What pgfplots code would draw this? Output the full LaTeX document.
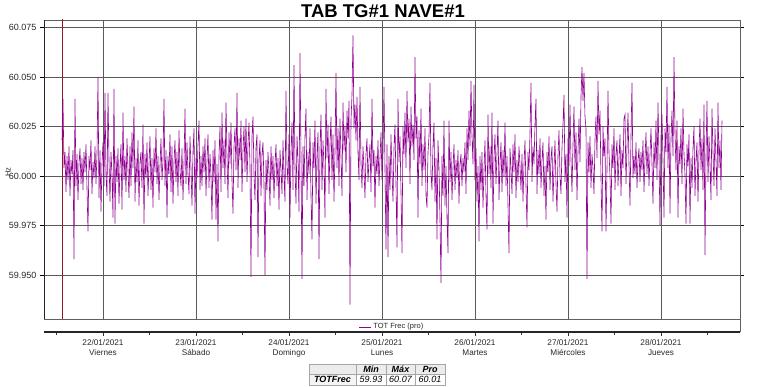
\documentclass[border=0pt]{standalone}
\usepackage{pgfplots}
\pgfplotsset{compat=1.18}
\usepackage{pgfplotstable}
\usepackage{fontspec}
\setmainfont{Liberation Sans}
\definecolor{freq}{RGB}{145,0,145}
\definecolor{cursor}{RGB}{150,20,40}
\definecolor{gridc}{RGB}{90,90,90}
\definecolor{txt}{RGB}{40,40,40}
\pgfplotstableread[row sep=\\]{
y\\
60.018\\60.039\\60.004\\60.012\\59.992\\60.010\\59.998\\60.015\\59.990\\60.008\\60.001\\60.013\\59.958\\60.039\\59.995\\60.011\\59.988\\60.006\\60.014\\59.996\\
60.009\\59.993\\60.012\\60.002\\60.016\\59.994\\59.972\\60.010\\60.003\\60.018\\59.991\\60.007\\59.999\\60.015\\59.996\\60.011\\60.050\\59.989\\60.013\\59.982\\
60.006\\60.017\\59.995\\60.042\\60.000\\59.990\\60.042\\60.008\\59.987\\60.012\\60.001\\59.979\\60.044\\59.976\\60.010\\59.997\\60.014\\59.986\\60.005\\60.016\\
59.983\\60.032\\59.998\\60.010\\59.992\\60.019\\60.003\\59.989\\60.015\\59.995\\60.022\\60.004\\60.035\\59.987\\60.009\\59.997\\60.018\\59.985\\60.007\\60.012\\
59.994\\60.026\\59.976\\60.011\\59.999\\60.017\\59.990\\60.006\\60.020\\59.993\\60.009\\59.984\\60.014\\60.002\\60.024\\59.996\\60.010\\59.988\\60.005\\60.019\\
59.998\\60.008\\60.039\\59.995\\60.013\\59.979\\60.010\\60.001\\60.021\\59.992\\60.015\\59.986\\60.007\\60.018\\59.997\\60.012\\59.990\\60.023\\60.003\\59.995\\
60.014\\59.988\\60.006\\60.034\\59.996\\60.017\\60.001\\59.991\\60.020\\60.004\\59.985\\60.012\\60.024\\59.981\\60.009\\59.999\\60.016\\60.028\\59.993\\60.010\\
59.995\\60.015\\60.002\\60.019\\59.990\\60.008\\60.021\\59.994\\60.011\\60.000\\59.978\\60.013\\59.997\\60.018\\59.978\\60.006\\59.967\\60.010\\60.025\\59.992\\
60.032\\60.004\\60.018\\59.996\\60.037\\60.010\\59.989\\60.022\\60.006\\60.027\\59.998\\59.981\\60.015\\60.024\\60.003\\60.042\\59.994\\60.019\\60.008\\60.028\\
59.992\\60.013\\60.025\\60.002\\60.029\\59.997\\60.016\\60.027\\60.005\\59.949\\60.020\\60.030\\60.001\\59.988\\60.014\\60.021\\59.959\\60.009\\60.018\\59.990\\
60.011\\60.017\\59.996\\59.950\\60.008\\59.993\\60.012\\60.002\\59.985\\60.015\\59.998\\60.010\\59.989\\60.006\\60.016\\59.995\\60.009\\59.983\\60.013\\60.003\\
59.991\\60.018\\60.000\\59.987\\60.043\\60.006\\59.996\\60.021\\59.979\\60.012\\60.027\\59.993\\60.056\\60.004\\59.986\\60.020\\60.008\\59.982\\60.062\\60.010\\
59.948\\60.015\\59.995\\60.020\\60.034\\59.988\\60.012\\60.001\\60.024\\59.990\\59.968\\60.017\\60.004\\60.028\\59.986\\60.010\\60.022\\59.958\\60.014\\60.031\\
59.993\\60.018\\60.005\\59.979\\60.044\\60.009\\60.026\\59.991\\60.016\\60.030\\59.998\\60.021\\59.987\\60.012\\60.052\\60.004\\60.024\\59.995\\60.029\\60.010\\
59.990\\60.037\\60.013\\60.025\\60.002\\60.033\\60.019\\60.038\\59.935\\60.028\\60.041\\60.071\\60.024\\60.036\\60.018\\60.040\\60.012\\59.998\\60.045\\60.006\\
59.994\\60.015\\60.003\\59.989\\60.011\\60.019\\59.997\\60.008\\60.016\\59.992\\60.039\\60.005\\60.013\\59.984\\60.010\\60.001\\60.018\\59.995\\60.009\\60.022\\
59.998\\60.012\\60.045\\60.004\\59.963\\60.016\\59.959\\60.010\\59.993\\60.021\\60.002\\59.987\\60.014\\60.026\\59.996\\59.964\\60.039\\60.007\\60.020\\59.992\\
59.961\\60.025\\60.011\\60.032\\60.004\\60.043\\60.017\\60.029\\59.996\\60.035\\60.015\\60.026\\60.008\\60.060\\60.019\\60.030\\59.979\\60.023\\60.006\\60.034\\
59.995\\60.016\\60.003\\60.024\\59.990\\59.984\\60.012\\60.020\\60.047\\60.001\\59.993\\60.015\\60.027\\59.987\\60.009\\59.968\\60.018\\60.004\\59.978\\59.946\\
60.010\\59.990\\60.028\\59.985\\60.005\\59.979\\59.961\\60.028\\59.997\\60.012\\59.988\\60.004\\60.016\\59.993\\60.008\\59.999\\60.013\\59.986\\60.006\\60.011\\
59.995\\60.009\\60.002\\60.017\\59.991\\60.024\\60.008\\60.033\\60.015\\60.048\\60.020\\60.006\\60.046\\59.998\\60.014\\59.987\\60.005\\59.967\\60.010\\59.993\\
60.012\\59.984\\60.003\\60.018\\59.990\\59.973\\60.031\\60.001\\60.015\\59.994\\60.032\\59.976\\60.009\\60.021\\59.996\\60.011\\60.028\\59.988\\60.006\\60.017\\
59.992\\60.013\\60.000\\60.027\\59.995\\60.010\\59.985\\59.961\\60.014\\60.004\\59.991\\60.016\\60.002\\60.021\\59.989\\60.008\\59.997\\60.015\\60.005\\59.993\\
60.011\\59.987\\60.006\\60.018\\59.995\\59.974\\60.012\\60.003\\60.022\\60.047\\59.997\\60.015\\60.006\\60.026\\60.039\\59.991\\60.013\\60.001\\60.019\\59.994\\
60.008\\60.017\\59.990\\60.005\\59.978\\60.012\\60.002\\60.020\\59.993\\60.009\\60.015\\59.987\\60.004\\60.018\\59.996\\59.982\\60.010\\60.023\\60.000\\59.991\\
60.014\\60.026\\60.041\\59.997\\60.011\\59.979\\60.019\\60.005\\60.036\\60.008\\59.992\\60.016\\60.035\\60.003\\60.022\\59.988\\60.012\\60.029\\60.007\\60.040\\
60.055\\60.038\\60.052\\60.030\\60.024\\59.948\\60.017\\60.002\\60.020\\59.994\\60.011\\60.004\\59.991\\60.018\\60.030\\60.009\\60.048\\60.021\\60.033\\59.999\\
59.972\\60.025\\60.010\\60.019\\59.972\\60.003\\60.043\\60.012\\60.000\\59.976\\60.016\\60.004\\60.024\\59.993\\60.011\\60.018\\59.995\\60.009\\60.021\\59.990\\
60.013\\60.004\\60.029\\60.031\\59.996\\60.015\\60.032\\60.006\\59.985\\60.020\\60.047\\59.999\\60.010\\60.001\\60.017\\59.994\\60.008\\60.014\\59.997\\60.012\\
60.003\\60.018\\59.992\\60.009\\60.022\\60.001\\60.015\\59.995\\60.011\\60.024\\60.006\\59.986\\60.017\\60.004\\60.028\\59.998\\60.037\\60.010\\59.975\\60.020\\
60.031\\60.008\\59.979\\60.024\\60.012\\60.045\\60.004\\60.026\\59.981\\60.019\\60.033\\60.010\\60.060\\60.022\\60.003\\60.028\\59.979\\60.015\\60.006\\60.024\\
59.996\\60.034\\60.011\\60.001\\59.976\\60.016\\60.005\\60.021\\59.976\\60.009\\59.994\\60.014\\60.025\\59.990\\60.008\\60.017\\59.987\\60.012\\60.029\\60.003\\
60.019\\59.993\\60.036\\59.960\\60.010\\60.038\\59.997\\60.020\\60.006\\59.988\\60.034\\60.012\\59.995\\60.024\\60.008\\59.990\\60.037\\60.004\\60.018\\59.993\\60.028\\
}\freqdata
\begin{document}
\begin{tikzpicture}
\useasboundingbox (0,0) rectangle (761pt,387pt);
\node[font=\fontsize{18.5}{22}\selectfont\bfseries, text=black] at (383pt,375.5pt) {TAB TG\#1 NAVE\#1};
\node[rotate=90, font=\fontsize{7.5}{8}\selectfont, text=txt] at (8pt,215pt) {Hz};
\begin{axis}[
  at={(44pt,68pt)}, anchor=south west, scale only axis,
  width=696pt, height=299pt,
  xmin=0.3656, xmax=7.8495, ymin=59.92778, ymax=60.07879,
  xtick={1,2,3,4,5,6,7}, xticklabels={},
  ytick={59.95,59.975,60,60.025,60.05,60.075},
  scaled y ticks=false,
  grid=major, major grid style={gridc, line width=0.75pt},
  tick align=outside, major tick length=4pt,
  xtick style={draw=none},
  ytick style={black, line width=0.6pt},
  axis line style={gray!75!black, line width=0.6pt},
  yticklabel style={font=\fontsize{9}{10}\selectfont, text=txt,
    /pgf/number format/fixed, /pgf/number format/fixed zerofill,
    /pgf/number format/precision=3, /pgf/number format/assume math mode=true},
  legend style={at={(0.5,-0.004)}, anchor=north, draw=none, fill=none,
    font=\fontsize{7.5}{8}\selectfont, text=txt, inner sep=1pt},
  legend image code/.code={\draw[freq, line width=0.7pt] (0pt,0pt) -- (12pt,0pt);},
]
\addplot[cursor, line width=0.9pt, forget plot] coordinates {(0.5591,59.90) (0.5591,60.10)};
\addplot[freq, line width=0.6pt] table[x expr={0.5591+\coordindex*0.0107527}, y=y] {\freqdata};
\addlegendentry{TOT Frec (pro)}
\draw[black!85, line width=2.2pt] (rel axis cs:0,0) -- (rel axis cs:0,1);
\end{axis}
\draw[gray!75!black, line width=0.6pt] (740pt,68pt) -- (740pt,55pt);
\begin{axis}[
  at={(44pt,55pt)}, anchor=south west, scale only axis,
  width=696pt, height=10pt,
  xmin=0.3656, xmax=7.8495, ymin=0, ymax=1,
  axis y line=none, axis x line=bottom,
  x axis line style={-, black!85, line width=2pt},
  xtick={1,2,3,4,5,6,7},
  minor xtick={0.5,1.5,2.5,3.5,4.5,5.5,6.5,7.5},
  xticklabels={{22/01/2021\\Viernes},{23/01/2021\\Sábado},{24/01/2021\\Domingo},{25/01/2021\\Lunes},{26/01/2021\\Martes},{27/01/2021\\Miércoles},{28/01/2021\\Jueves}},
  tick align=outside, major tick length=4pt, minor tick length=3pt,
  tick style={black!80, line width=0.6pt},
  xticklabel style={align=center, font=\fontsize{8.2}{10.5}\selectfont, text=txt},
]
\addplot[draw=none, forget plot] coordinates {(1,0.5)};
\end{axis}
% statistics table
\fill[gray!15] (309pt,12.5pt) rectangle (445pt,23pt);
\fill[gray!8] (309pt,2pt) rectangle (356pt,12.5pt);
\draw[gray!70, line width=0.5pt] (309pt,2pt) rectangle (445pt,23pt);
\draw[gray!70, line width=0.5pt] (309pt,12.5pt) -- (445pt,12.5pt);
\foreach \xx in {356,386,415} \draw[gray!70, line width=0.5pt] (\xx pt,2pt) -- (\xx pt,23pt);
\begin{scope}[every node/.style={font=\fontsize{9}{10}\selectfont, text=black, inner sep=0pt}]
\node at (371pt,17.6pt) {\bfseries\itshape Min};
\node at (400.5pt,17.6pt) {\bfseries\itshape Máx};
\node at (430pt,17.6pt) {\bfseries\itshape Pro};
\node at (332.5pt,7.2pt) {\bfseries\itshape TOTFrec};
\node at (371pt,7.2pt) {\itshape 59.93};
\node at (400.5pt,7.2pt) {\itshape 60.07};
\node at (430pt,7.2pt) {\itshape 60.01};
\end{scope}
\end{tikzpicture}
\end{document}
